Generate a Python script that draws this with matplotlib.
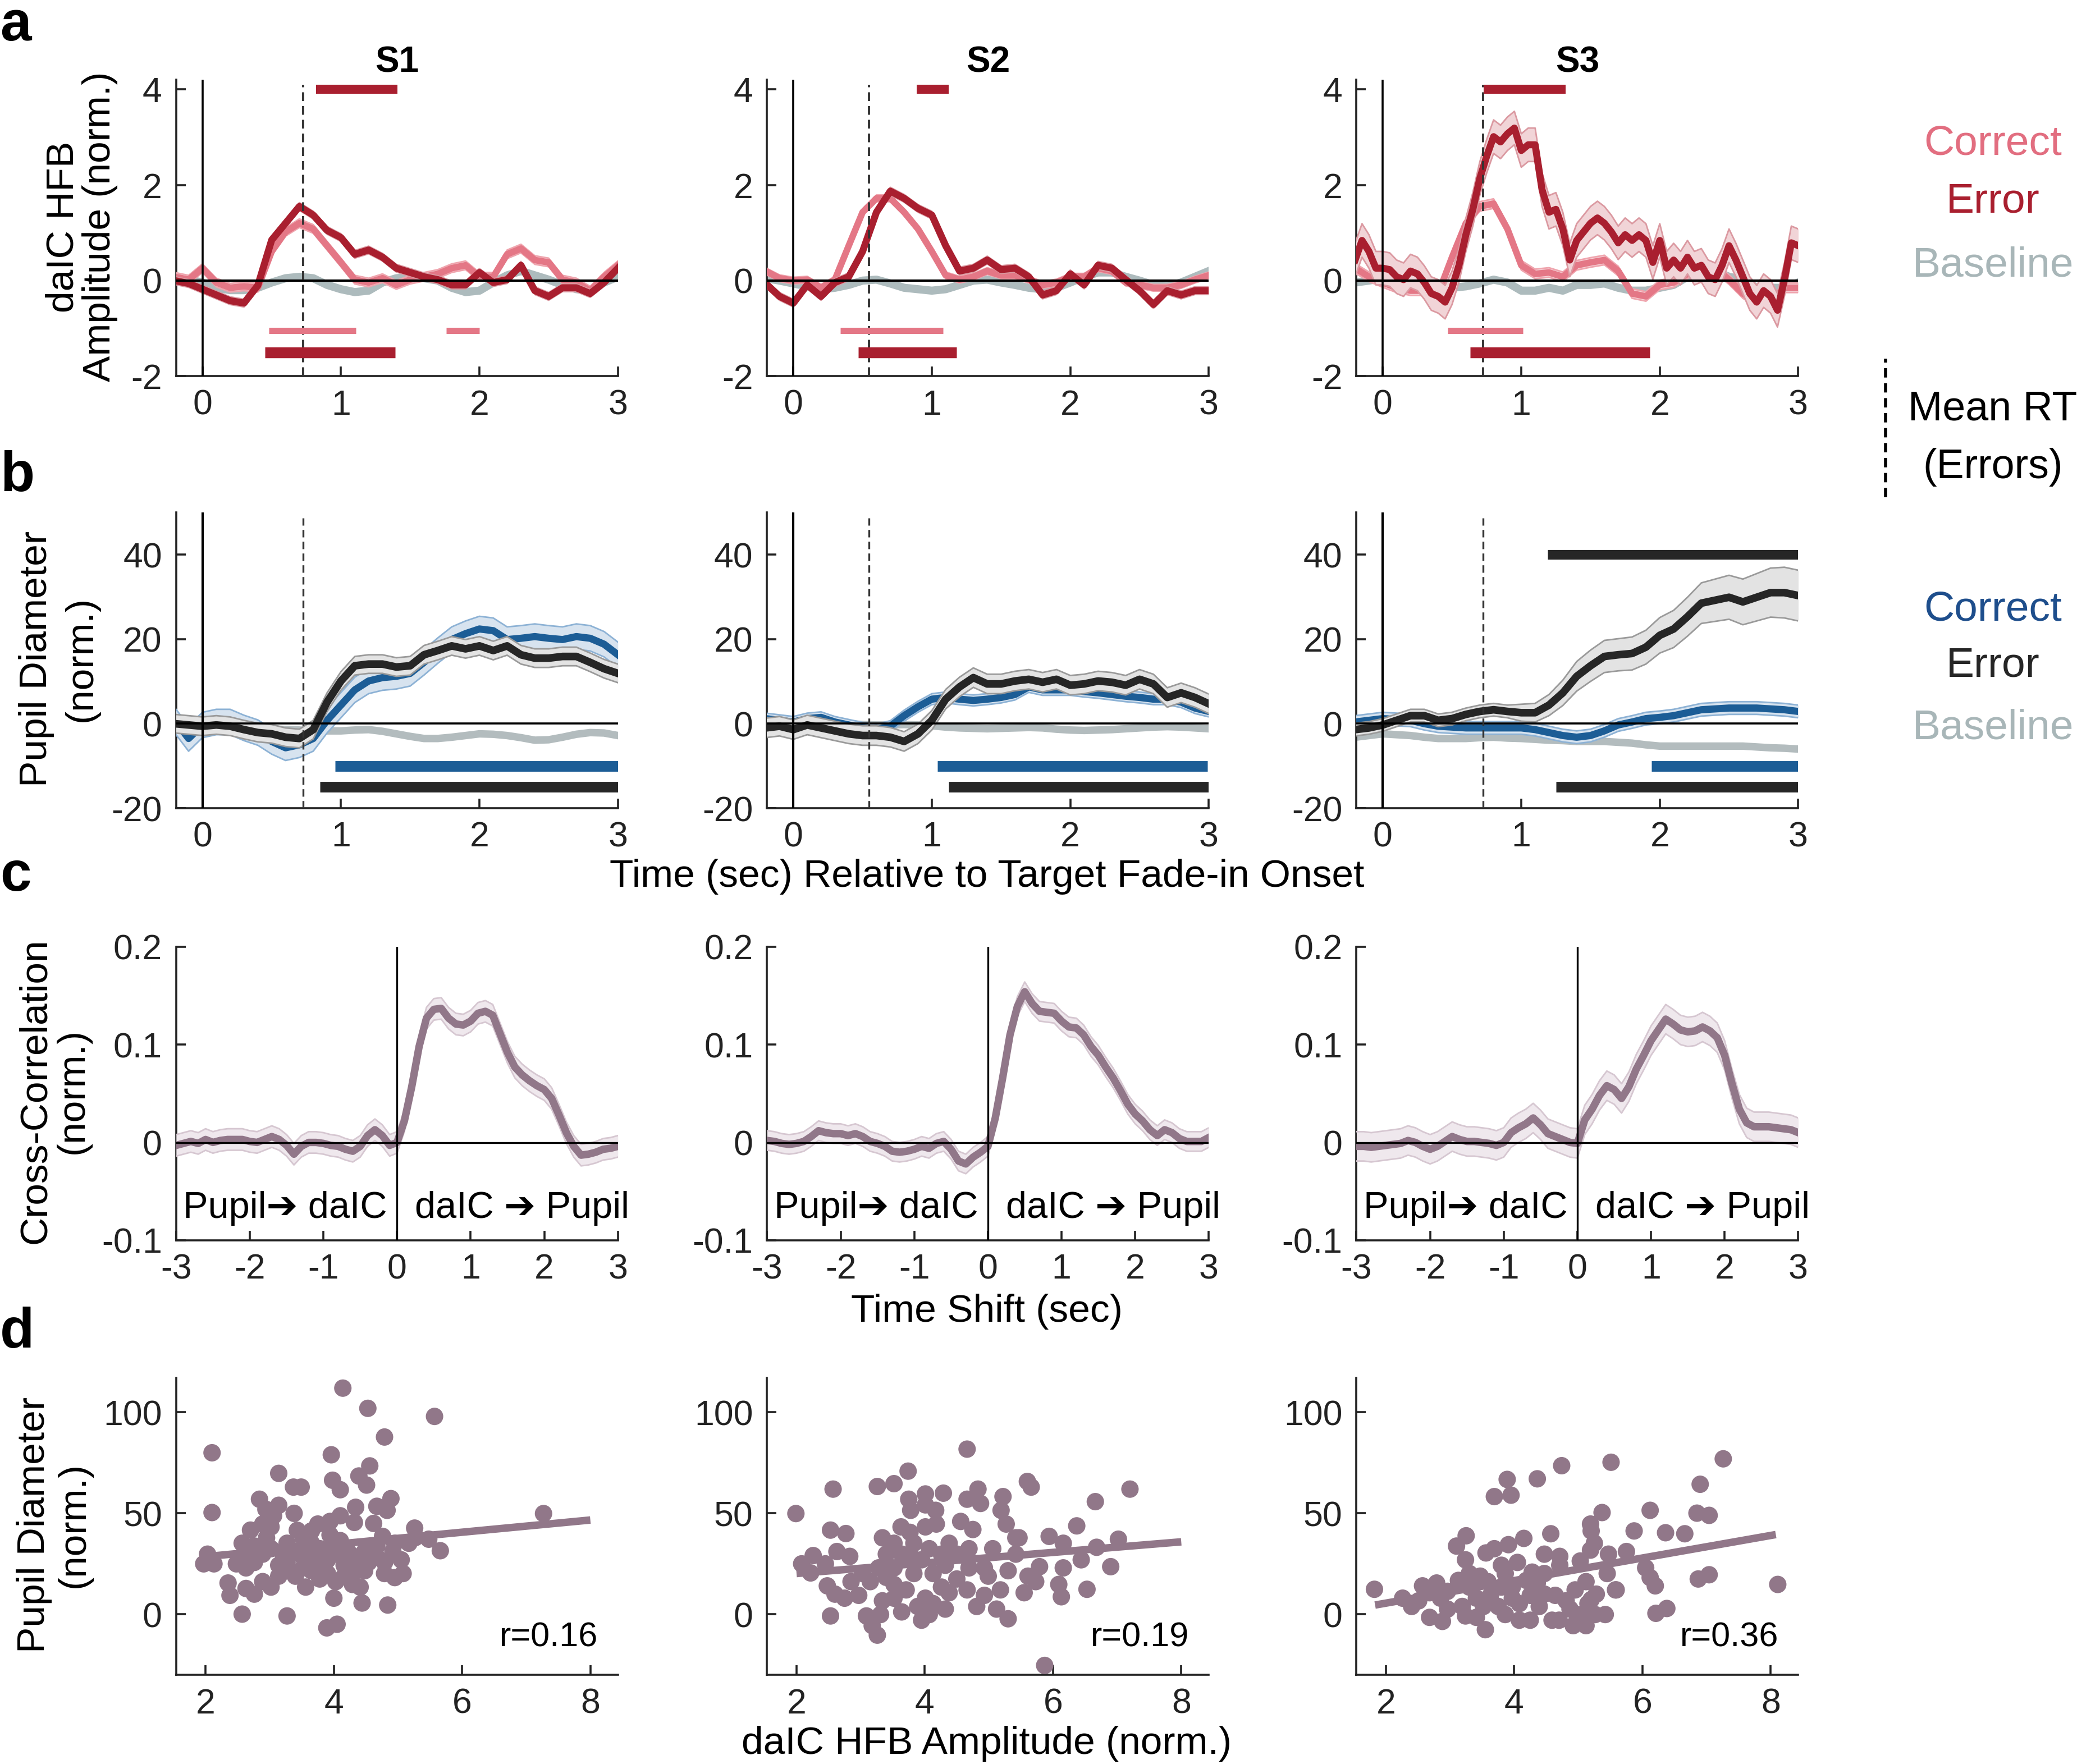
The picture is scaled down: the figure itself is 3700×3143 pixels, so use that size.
import numpy as np
import matplotlib
matplotlib.use("Agg")
import matplotlib.pyplot as plt
from matplotlib.lines import Line2D

plt.rcParams['font.family'] = ['Liberation Sans', 'DejaVu Sans']
plt.rcParams['axes.unicode_minus'] = False

# ------------------------------------------------------------------ data
subjects = ['S1', 'S2', 'S3']
t_a = np.round(np.arange(-0.2, 3.0001, 0.1), 2)          # time grid (s)
t_a_fine = np.round(np.arange(-0.2, 3.0001, 0.05), 2)
lag_c = np.round(np.arange(-3.0, 3.0001, 0.1), 2)         # time shift (s)
mean_rt = [0.726, 0.547, 0.726]

# panel a : daIC HFB amplitude
a_S1_err = [0.0, -0.06, -0.18, -0.3, -0.42, -0.47, -0.1, 0.85, 1.2, 1.55, 1.37, 1.05, 0.9, 0.55, 0.64, 0.49, 0.26,
            0.17, 0.08, 0.02, -0.09, -0.09, 0.17, -0.04, 0.02, 0.32, -0.21, -0.33, -0.15, -0.15, -0.27, -0.04, 0.26]
a_S1_cor = [0.08, 0.02, 0.26, -0.04, -0.15, -0.12, -0.15, 0.61, 1.02, 1.2, 1.08, 0.73, 0.38, 0.02, -0.04, 0.05, -0.09,
            0.02, 0.08, 0.14, 0.26, 0.32, 0.08, 0.08, 0.55, 0.67, 0.43, 0.38, 0.02, -0.04, -0.21, 0.08, 0.32]
a_S1_base = [0.08, 0.02, -0.04, -0.15, -0.2, -0.2, -0.15, -0.04, 0.05, 0.08, 0.05, -0.09, -0.18, -0.24, -0.21, -0.04,
             0.05, 0.08, 0.05, 0.0, -0.15, -0.24, -0.21, -0.04, 0.11, 0.2, 0.11, 0.02, -0.09, -0.18, -0.21, -0.04, 0.08]
a_S2_err = [-0.06, -0.33, -0.47, -0.09, -0.33, -0.04, 0.08, 0.61, 1.43, 1.87, 1.72, 1.51, 1.37, 0.73, 0.2, 0.26, 0.43,
            0.23, 0.26, 0.08, -0.3, -0.21, 0.14, -0.09, 0.32, 0.26, 0.02, -0.21, -0.5, -0.21, -0.3, -0.21, -0.21]
a_S2_cor = [0.2, 0.05, 0.0, 0.02, -0.15, 0.02, 0.73, 1.43, 1.72, 1.72, 1.43, 1.08, 0.61, 0.11, 0.02, 0.08, 0.2,
            0.11, 0.11, 0.02, -0.09, -0.04, 0.08, 0.08, 0.26, 0.2, -0.04, -0.09, -0.15, -0.15, -0.09, 0.02, 0.11]
a_S2_base = [0.05, 0.0, -0.06, -0.12, -0.18, -0.15, -0.09, 0.0, 0.02, -0.06, -0.15, -0.18, -0.21, -0.18, -0.09, 0.0,
             0.02, -0.04, -0.09, -0.15, -0.18, -0.15, -0.04, 0.08, 0.17, 0.17, 0.08, 0.0, -0.09, -0.12, -0.04, 0.08, 0.2]
a_S3_err = [0.43, 0.84, 0.61, 0.26, 0.26,
            0.23, 0.08, 0.02, 0.2, 0.14, -0.04, -0.27, -0.33, -0.45, -0.15, 0.32, 0.96, 1.49, 2.13, 2.6, 3.01, 2.9, 3.07, 3.19, 2.72,
            2.84, 2.84, 1.9, 1.43, 1.49, 1.08, 0.43, 0.84, 1.02, 1.2, 1.31, 1.2, 1.02, 0.79, 0.96, 0.84, 0.96, 0.84, 0.38, 0.84,
            0.26, 0.43, 0.26, 0.49, 0.26, 0.32, 0.08, 0.02, 0.32, 0.73, 0.43, 0.08, -0.27, -0.45, -0.21, -0.33, -0.62, 0.02, 0.79, 0.73]
a_S3_cor = [0.26, 0.08, -0.04, -0.15, -0.21, -0.21, -0.27, 0.49, 1.2, 1.55, 1.61, 1.08, 0.32, 0.14, 0.17, 0.08, 0.32,
            0.38, 0.43, 0.2, -0.27, -0.33, -0.09, -0.04, 0.14, 0.38, 0.26, 0.02, -0.27, -0.45, -0.45, -0.15, -0.15]
a_S3_base = [-0.04, 0.0, 0.05, -0.04, -0.09, -0.21, -0.21, -0.15, -0.12, -0.06, 0.02, -0.04, -0.21, -0.21, -0.15, -0.21,
             -0.09, -0.09, -0.06, -0.15, -0.21, -0.21, -0.15, -0.09, 0.08, 0.11, 0.2, 0.08, 0.02, -0.15, -0.15, -0.15, -0.04]
a_sem_err = [0.08, 0.08, 0.35]
a_sem_cor = [0.09, 0.07, 0.1]
a_sig_err_vs_cor = [[(0.82, 1.41)], [(0.89, 1.12)], [(0.73, 1.32)]]
a_sig_cor = [[(0.48, 1.11), (1.76, 2.00)], [(0.34, 1.08)], [(0.47, 1.01)]]
a_sig_err = [[(0.45, 1.39)], [(0.47, 1.18)], [(0.63, 1.93)]]

# panel b : pupil diameter
b_S1_err = [0.0, -0.3, -0.6, -0.3, -0.6, -1.4, -2.1, -2.4, -3.2, -3.5, -1.4, 5.1, 10.1, 13.7, 14.1, 14.1, 13.4, 13.7,
            16.3, 17.3, 18.4, 17.7, 18.4, 17.3, 18.4, 16.3, 15.5, 15.5, 15.9, 15.9, 14.5, 13.0, 11.9]
b_S1_cor = [0.8, -3.5, -0.3, 0.4, 0.4, -1.0, -2.1, -4.2, -5.7, -5.0, -3.5, 0.8, 4.4, 8.0, 10.1, 10.9, 11.2, 11.9,
            14.5, 17.3, 19.9, 21.3, 22.4, 22.0, 19.9, 20.2, 20.6, 20.2, 19.9, 20.6, 20.2, 18.8, 16.3]
b_S1_base = [-1.0, -1.2, -1.4, -1.2, -1.0, -1.0, -1.0, -1.2, -1.4, -1.5, -1.7, -1.7, -1.7, -1.5, -1.4, -1.8, -2.4,
             -3.0, -3.5, -3.5, -3.2, -2.8, -2.4, -2.5, -2.8, -3.3, -3.9, -3.8, -3.2, -2.5, -2.1, -2.2, -2.8]
b_S2_err = [-1.0, -0.6, -1.4, -0.3, -1.0, -1.7, -2.4, -2.8, -2.8, -3.2, -4.2, -2.4, 0.8, 5.8, 8.7, 10.9, 9.4, 9.4,
            10.1, 10.5, 9.8, 10.5, 9.1, 9.4, 10.1, 9.8, 9.1, 10.5, 9.4, 6.2, 7.3, 6.2, 4.7]
b_S2_cor = [1.2, 0.8, 0.4, 1.2, 1.5, 0.4, -0.3, -1.0, -1.4, -0.6, 1.9, 4.0, 5.8, 6.2, 5.8, 5.5, 5.8, 6.2,
            6.9, 8.7, 8.0, 8.0, 8.0, 7.6, 7.3, 6.9, 6.5, 6.2, 5.8, 5.8, 5.1, 3.7, 2.9]
b_S2_base = [0.0, -0.2, -0.3, 0.2, 0.5, 0.3, 0.0, -0.2, -0.3, -0.3, -0.2, -0.3, -0.5, -0.8, -1.0, -1.1, -1.2, -1.1,
             -1.0, -0.9, -1.0, -1.3, -1.5, -1.6, -1.5, -1.4, -1.2, -1.0, -0.8, -0.7, -0.8, -1.0, -1.2]
b_S3_err = [-1.4, -1.0, -0.3, 0.8, 1.9, 1.9, 0.8, 1.2, 2.2, 2.9, 3.3, 2.9, 2.6, 2.6, 4.4, 7.3, 11.2, 13.7,
            15.9, 16.3, 16.6, 18.1, 20.9, 22.4, 25.3, 28.5, 29.2, 29.9, 28.8, 29.9, 31.0, 31.0, 30.3]
b_S3_err_sem = [1.5, 1.5, 1.5, 1.5, 1.5, 1.5, 1.5, 1.5, 1.5, 1.5, 1.5, 1.5, 2.0, 2.2, 2.5, 3.0, 3.5, 3.7,
                3.8, 3.8, 3.9, 4.0, 4.2, 4.4, 4.6, 4.8, 5.0, 5.2, 5.4, 5.6, 5.8, 6.0, 6.0]
b_S3_cor = [0.4, 0.8, 1.2, 1.0, 0.8, 0.0, -0.6, -0.8, -1.0, -1.0, -1.0, -1.0, -1.0, -1.4, -2.1, -2.8, -3.2, -2.8,
            -1.7, -0.3, 0.4, 1.2, 1.5, 1.9, 2.6, 3.3, 3.5, 3.7, 3.7, 3.7, 3.5, 3.3, 2.9]
b_S3_base = [-3.2, -2.8, -2.4, -2.6, -2.8, -3.2, -3.5, -3.5, -3.5, -3.3, -3.2, -3.4, -3.5, -3.7, -3.9, -4.0, -4.2,
             -4.2, -4.2, -4.4, -4.6, -5.0, -5.3, -5.3, -5.3, -5.3, -5.3, -5.3, -5.3, -5.5, -5.7, -5.8, -6.0]
b_sem_err = [2.2, 2.3, None]
b_sem_cor = [3.0, 1.3, 1.5]
b_sig_err_vs_cor = [[], [], [(1.19, 3.0)]]
b_sig_cor = [[(0.96, 3.0)], [(1.04, 2.99)], [(1.94, 3.0)]]
b_sig_err = [[(0.85, 3.0)], [(1.12, 3.0)], [(1.25, 3.0)]]

# panel c : cross-correlation
c_S1 = [-0.003, -0.001, 0.001, -0.001, 0.003, 0.0, 0.002, 0.003, 0.003, 0.003, 0.001, 0.0, 0.003, 0.006, 0.003,
        -0.003, -0.012, -0.004, 0.0, 0.0, -0.001, -0.003, -0.004, -0.007, -0.009, -0.004, 0.007, 0.013, 0.007, -0.003,
        0.0, 0.022, 0.057, 0.098, 0.127, 0.136, 0.137, 0.127, 0.121, 0.12, 0.124, 0.132, 0.134, 0.13, 0.111, 0.092,
        0.077, 0.069, 0.063, 0.058, 0.054, 0.045, 0.028, 0.01, -0.004, -0.013, -0.012, -0.01, -0.007, -0.006, -0.004]
c_S2 = [0.002, 0.001, -0.001, -0.002, -0.001, 0.001, 0.006, 0.012, 0.01, 0.009, 0.009, 0.007, 0.009, 0.006, 0.001,
        -0.001, -0.004, -0.009, -0.01, -0.009, -0.007, -0.004, -0.006, -0.001, 0.001, -0.007, -0.019, -0.022, -0.015, -0.01,
        -0.004, 0.025, 0.066, 0.11, 0.139, 0.154, 0.142, 0.134, 0.133, 0.132, 0.124, 0.118, 0.117, 0.11, 0.098, 0.089,
        0.077, 0.066, 0.053, 0.039, 0.029, 0.022, 0.013, 0.007, 0.013, 0.01, 0.004, 0.001, 0.001, 0.001, 0.005]
c_S3 = [-0.004, -0.004, -0.005, -0.004, -0.003, -0.002, -0.001, 0.002, 0.0, -0.004, -0.007, -0.004, 0.001, 0.006, 0.003,
        0.001, 0.001, 0.0, -0.001, -0.003, 0.0, 0.01, 0.015, 0.019, 0.025, 0.018, 0.009, 0.006, 0.003, 0.0,
        -0.001, 0.023, 0.034, 0.048, 0.058, 0.054, 0.045, 0.057, 0.075, 0.089, 0.104, 0.115, 0.126, 0.121, 0.115, 0.113,
        0.114, 0.118, 0.114, 0.107, 0.089, 0.06, 0.034, 0.02, 0.016, 0.016, 0.016, 0.015, 0.014, 0.013, 0.01]
c_sem = [0.011, 0.01, 0.015]
c_text_left = 'Pupil\u2794 daIC'
c_text_right = 'daIC \u2794 Pupil'

# panel d : trial-wise scatter
d_S1_x = [2.10, 2.10, 4.14, 4.53, 5.57, 4.79, 3.96, 4.56, 3.14, 4.39, 4.51, 3.98, 4.10, 3.37, 3.49, 2.84, 2.94, 3.14,
          3.06, 3.38, 4.34, 4.67, 4.89, 4.83, 4.10, 3.94, 4.32, 4.62, 5.26, 7.27, 5.66, 5.48, 5.27, 2.70, 2.89, 3.02,
          3.43, 3.75, 3.65, 3.52, 3.94, 4.10, 4.76, 4.95, 2.03, 1.97, 2.13, 2.48, 2.57, 2.63, 2.76, 2.89, 3.02, 3.21,
          3.27, 3.40, 3.52, 3.65, 3.78, 3.90, 3.97, 4.10, 4.22, 4.35, 4.48, 4.54, 4.67, 4.79, 4.92, 5.05, 2.35, 2.38,
          2.63, 2.76, 2.57, 3.27, 2.89, 3.02, 3.14, 3.27, 3.40, 3.56, 3.65, 3.78, 3.90, 4.03, 4.16, 4.29, 4.41, 4.35,
          4.48, 4.00, 4.44, 4.84, 3.89, 4.05, 4.79, 4.95, 5.08, 5.17, 2.63, 2.76, 3.14, 3.52, 3.78, 4.16, 4.54, 4.67,
          3.65, 3.27, 2.95]
d_S1_y = [80.0, 50.4, 112, 102, 98, 87.8, 79, 73.5, 69.8, 68.5, 64, 66.4, 61.7, 63, 63, 57, 52, 54, 48.8, 50,
          53, 53.5, 57.3, 51.5, 48.8, 46, 45.5, 45, 42.7, 49.9, 31.5, 37.2, 38, 41.7, 44.7, 43.3, 41.6, 44.7, 41.3, 37.9,
          39.3, 36.5, 38.6, 35.2, 29.8, 25, 25, 25, 35.2, 31.1, 33.8, 29.8, 32.5, 29.8, 25.7, 31.1, 28.4, 29.8, 32.5, 27,
          32.5, 29.8, 31.1, 28.4, 31.1, 25.7, 28.4, 25.7, 31.1, 27, 15.5, 9.4, 12.8, 10, 0.1, -0.8, 16.2, 13.5, 18.9, 21.6,
          18.9, 13.5, 21.6, 17.5, 20.2, 16.2, 18.9, 14.8, 13.5, 21.6, 21.6, 8, 5.6, 4.6, -6.7, -4.9, 20.2, 18.2, 20.2, 35.2,
          23, 25.7, 24.3, 23, 24.3, 24.3, 29.8, 33.8, 35.2, 35.2, 37.9]
d_S2_x = [1.99, 2.57, 3.26, 3.52, 3.74, 4.66, 4.83, 5.60, 5.66, 7.20, 6.66, 3.75, 4.01, 4.29, 3.78, 4.01, 4.17, 4.66,
          4.87, 5.22, 5.19, 5.27, 4.56, 4.01, 4.18, 3.63, 3.77, 3.34, 2.53, 2.77, 6.37, 5.94, 5.47, 7.02, 6.68, 6.16,
          6.90, 6.44, 6.16, 2.26, 2.08, 2.22, 2.45, 2.63, 2.83, 2.48, 2.60, 2.75, 2.53, 2.85, 2.97, 3.09, 3.18, 3.26,
          3.31, 3.34, 3.15, 3.28, 3.40, 3.52, 3.64, 3.64, 3.52, 3.71, 3.83, 3.95, 3.95, 4.07, 4.01, 4.13, 4.26, 4.32,
          4.13, 4.32, 4.07, 4.38, 4.50, 4.50, 4.66, 4.69, 4.81, 4.93, 4.99, 5.06, 5.12, 5.30, 5.18, 5.30, 5.42, 5.55,
          5.61, 5.73, 5.79, 5.42, 5.87, 6.13, 6.09, 6.53, 4.69, 3.77, 3.52, 3.03, 3.40, 3.83, 4.26, 4.75, 4.93, 4.38,
          3.89, 3.52]
d_S2_y = [49.9, 62, 63.3, 64.7, 70.9, 81.8, 62, 65.8, 63, 62, 55.8, 57, 59.6, 60, 51.5, 54.2, 51.5, 57, 54.9, 58.3,
          51.5, 44.7, 46, 43.3, 44.7, 43.3, 40.6, 37.9, 41.7, 40, 43.8, 38.6, 37.9, 37.2, 33.2, 35.2, 23.6, 27, 23, 29.1,
          25, 20.5, 25, 31.1, 28.7, 14.1, 10, 8, -0.8, 16.2, 9.4, -0.8, -5.6, -10.3, -0.1, 6.7, 16.2, 23, 29.8, 23,
          29.8, 1.2, 8, 12.1, 20.2, 27, -2.9, -0.1, 8, 5.3, 13.5, 2.6, 20.2, 24.3, 32.5, 35.2, 29.8, 17.5, 12.1, 23,
          3.9, 9.4, 18.9, 32.5, 2.6, -2.2, 12.1, 21.6, 29.8, 10.7, 18.9, 16.2, 23.6, 37.9, -25.3, 8.7, 14.8, 12.4, 32.5, 29.8,
          35.2, 20.2, 18.3, 35.2, 29.8, 42, 23, 10.7, 3.9, 14.8]
d_S3_x = [1.82, 5.51, 7.26, 4.74, 4.36, 3.89, 3.95, 3.69, 6.90, 6.85, 7.04, 6.12, 5.37, 5.19, 5.20, 5.87, 6.36, 6.66,
          4.57, 4.15, 3.25, 3.10, 3.91, 3.69, 3.56, 5.25, 5.19, 5.75, 5.47, 4.47, 4.71, 3.24, 4.05, 5.03, 3.80, 6.05,
          4.71, 4.28, 4.47, 5.45, 6.12, 6.20, 6.87, 7.04, 8.11, 5.59, 4.19, 4.36, 2.57, 2.79, 3.13, 3.44, 3.59, 3.30,
          2.96, 2.68, 2.26, 2.40, 2.51, 2.85, 2.96, 2.68, 2.88, 3.19, 3.24, 3.41, 3.52, 3.41, 3.55, 3.63, 3.75, 3.86,
          3.97, 4.08, 4.08, 4.25, 4.25, 4.39, 4.47, 4.59, 4.64, 4.70, 4.81, 4.87, 4.92, 4.95, 4.98, 5.09, 5.12, 5.15,
          5.12, 5.28, 5.20, 5.26, 5.42, 5.58, 6.21, 6.38, 3.30, 3.47, 3.80, 3.97, 3.86]
d_S3_y = [12.4, 75.3, 77, 73.6, 67.1, 66.8, 59, 58.3, 64.4, 50.1, 49, 51.5, 50.4, 44.7, 41.3, 41.3, 40.4, 39.9,
          39.9, 37.6, 38.9, 33.8, 34.5, 32.5, 30.4, 35.2, 31.8, 31.1, 29.8, 29.8, 28.7, 27, 25.7, 26.4, 24.3, 23,
          24.3, 20.9, 20.2, 20.2, 18.2, 14.1, 17.5, 19.6, 14.8, 12.1, 16.8, 15.5, 14.1, 15.5, 16.8, 16.2, 16.2, 13.5,
          11.4, 10.7, 8, 3.9, 6.7, 8, 2.6, -1.5, -3.5, 3.9, -0.8, 8, 3.9, -1.5, -7.6, 9.4, 3.9, -0.1,
          8, 5.3, -2.9, -2.9, 9.4, 3.9, 10, -2.9, 9.4, -2.9, 6.7, 2.6, -5.6, 12.1, -0.1, -2.9, -5.6, 5.3,
          16.2, 10, 7.3, -0.1, -0.1, 12.1, 0.5, 2.9, 20.2, 18.9, 13.5, 13.5, 20.2]
d_fit_x = [[1.94, 8.0], [2.0, 8.0], [1.83, 8.08]]
d_fit_y = [[28.4, 46.7], [20.2, 35.9], [4.6, 39.5]]
d_r_text = ['r=0.16', 'r=0.19', 'r=0.36']

# ------------------------------------------------------------------ styles
C_COR = '#E47786'; C_COR_FILL = '#F7D3D8'; C_COR_EDGE = '#EFA5AE'
C_ERR = '#A91F2F'; C_ERR_FILL = '#F1D4D7'; C_ERR_EDGE = '#DB99A1'
C_BASE = '#ADBBBD'
C_BLUE = '#1C5D96'; C_BLUE_FILL = '#D7E3EF'; C_BLUE_EDGE = '#8DB2D5'
C_BLK = '#262626'; C_BLK_FILL = '#E3E3E3'; C_BLK_EDGE = '#9A9A9A'
C_BASE_B = '#B3BCBE'
C_PUR = '#917789'; C_PUR_FILL = '#EFE8ED'; C_PUR_EDGE = '#D6C7D1'
AX_C = '#222222'

TICK_FS = 22.5
LABEL_FS = 25
LEG_FS = 27

fig = plt.figure(figsize=(18.5, 15.715), dpi=200)

col_left = [0.0848, 0.3693, 0.6531]
W = 0.2127
row_rect = {'a': (0.7867, 0.1681), 'b': (0.5418, 0.1678), 'c': (0.2969, 0.1664), 'd': (0.0505, 0.1683)}


def make_ax(row, col):
    b, h = row_rect[row]
    ax = fig.add_axes([col_left[col], b, W, h])
    for s in ('top', 'right'):
        ax.spines[s].set_visible(False)
    for s in ('left', 'bottom'):
        ax.spines[s].set_linewidth(1.3)
        ax.spines[s].set_color(AX_C)
    ax.tick_params(axis='both', direction='in', length=6, width=1.3, labelsize=TICK_FS,
                   color=AX_C, labelcolor=AX_C)
    ax.tick_params(axis='x', pad=8)
    ax.tick_params(axis='y', pad=9)
    return ax


def trace(ax, t, y, sem, color, fill, edge, lw, z):
    t = np.asarray(t, float)
    y = np.asarray(y, float)
    if sem is not None:
        sem = np.asarray(sem, float)
        ax.fill_between(t, y - sem, y + sem, color=fill, lw=0, zorder=z)
        ax.plot(t, y - sem, color=edge, lw=1.0, zorder=z + 0.1)
        ax.plot(t, y + sem, color=edge, lw=1.0, zorder=z + 0.1)
    ax.plot(t, y, color=color, lw=lw, zorder=z + 0.2, solid_joinstyle='round')


def sig_bars(ax, spans, y, color, lw):
    for (x0, x1) in spans:
        ax.hlines(y, x0, x1, colors=color, linewidth=lw, capstyle='butt', zorder=6)


# ---------------- panel a
a_err = [a_S1_err, a_S2_err, a_S3_err]
a_cor = [a_S1_cor, a_S2_cor, a_S3_cor]
a_base = [a_S1_base, a_S2_base, a_S3_base]
a_err_t = [t_a, t_a, t_a_fine]
for i in range(3):
    ax = make_ax('a', i)
    ax.set_xlim(-0.19, 3.0)
    ax.set_ylim(-2, 4.2)
    ax.set_xticks([0, 1, 2, 3])
    ax.set_yticks([-2, 0, 2, 4])
    ax.set_yticklabels(['-2', '0', '2', '4'])
    trace(ax, t_a, a_base[i], None, C_BASE, None, None, 5.2, 2)
    trace(ax, t_a, a_cor[i], a_sem_cor[i], C_COR, C_COR_FILL, C_COR_EDGE, 4.2, 3)
    trace(ax, a_err_t[i], a_err[i], a_sem_err[i], C_ERR, C_ERR_FILL, C_ERR_EDGE, 4.5, 4)
    ax.axhline(0, color='black', lw=1.5, zorder=5)
    ax.axvline(0, color='black', lw=1.3, zorder=5)
    ax.vlines(mean_rt[i], -2, 4.1, colors='#333333', lw=1.4, linestyles=(0, (4, 2.3)), zorder=5)
    sig_bars(ax, a_sig_err_vs_cor[i], 4.0, C_ERR, 5.8)
    sig_bars(ax, a_sig_cor[i], -1.04, C_COR, 4.0)
    sig_bars(ax, a_sig_err[i], -1.5, C_ERR, 7.0)
    ax.set_title(subjects[i], fontsize=23, fontweight='bold', pad=5)

# ---------------- panel b
b_err = [b_S1_err, b_S2_err, b_S3_err]
b_cor = [b_S1_cor, b_S2_cor, b_S3_cor]
b_base = [b_S1_base, b_S2_base, b_S3_base]
b_err_sem = [b_sem_err[0], b_sem_err[1], b_S3_err_sem]
for i in range(3):
    ax = make_ax('b', i)
    ax.set_xlim(-0.19, 3.0)
    ax.set_ylim(-20, 50)
    ax.set_xticks([0, 1, 2, 3])
    ax.set_yticks([-20, 0, 20, 40])
    ax.set_yticklabels(['-20', '0', '20', '40'])
    trace(ax, t_a, b_base[i], None, C_BASE_B, None, None, 4.8, 2)
    trace(ax, t_a, b_cor[i], b_sem_cor[i], C_BLUE, C_BLUE_FILL, C_BLUE_EDGE, 4.6, 3)
    trace(ax, t_a, b_err[i], b_err_sem[i], C_BLK, C_BLK_FILL, C_BLK_EDGE, 4.9, 4)
    ax.axhline(0, color='black', lw=1.3, zorder=5)
    ax.axvline(0, color='black', lw=1.5, zorder=5)
    ax.vlines(mean_rt[i], -20, 48.6, colors='#333333', lw=1.2, linestyles=(0, (4, 2.3)), zorder=5)
    sig_bars(ax, b_sig_err_vs_cor[i], 40, C_BLK, 6.2)
    sig_bars(ax, b_sig_cor[i], -10, C_BLUE, 6.8)
    sig_bars(ax, b_sig_err[i], -15, C_BLK, 6.8)

# ---------------- panel c
c_vals = [c_S1, c_S2, c_S3]
for i in range(3):
    ax = make_ax('c', i)
    ax.set_xlim(-3, 3)
    ax.set_ylim(-0.1, 0.2)
    ax.set_xticks([-3, -2, -1, 0, 1, 2, 3])
    ax.set_xticklabels(['-3', '-2', '-1', '0', '1', '2', '3'])
    ax.set_yticks([-0.1, 0, 0.1, 0.2])
    ax.set_yticklabels(['-0.1', '0', '0.1', '0.2'])
    trace(ax, lag_c, c_vals[i], c_sem[i], C_PUR, C_PUR_FILL, C_PUR_EDGE, 4.8, 3)
    ax.axhline(0, color='black', lw=1.2, zorder=5)
    ax.axvline(0, color='black', lw=1.2, zorder=5)
    ax.text(-1.52, -0.0676, c_text_left, fontsize=24, ha='center', va='center', color='black')
    ax.text(1.70, -0.0676, c_text_right, fontsize=24, ha='center', va='center', color='black', clip_on=False)

# ---------------- panel d
d_x = [d_S1_x, d_S2_x, d_S3_x]
d_y = [d_S1_y, d_S2_y, d_S3_y]
for i in range(3):
    ax = make_ax('d', i)
    ax.set_xlim(1.54, 8.43)
    ax.set_ylim(-30, 117)
    ax.set_xticks([2, 4, 6, 8])
    ax.set_yticks([0, 50, 100])
    ax.scatter(d_x[i], d_y[i], s=125, color=C_PUR, edgecolors='none', zorder=3)
    ax.plot(d_fit_x[i], d_fit_y[i], color=C_PUR, lw=4.8, solid_capstyle='butt', zorder=4)
    ax.text(0.955, 0.125, d_r_text[i], transform=ax.transAxes, fontsize=22, ha='right', va='center',
            color='black')

# ---------------- axis labels (figure level)
fig.text(0.0305, 0.8715, 'daIC HFB', rotation=90, ha='center', va='center', fontsize=LABEL_FS)
fig.text(0.0480, 0.8715, 'Amplitude (norm.)', rotation=90, ha='center', va='center', fontsize=LABEL_FS)
fig.text(0.0175, 0.6265, 'Pupil Diameter', rotation=90, ha='center', va='center', fontsize=LABEL_FS)
fig.text(0.0390, 0.6265, '(norm.)', rotation=90, ha='center', va='center', fontsize=LABEL_FS)
fig.text(0.0170, 0.3815, 'Cross-Correlation', rotation=90, ha='center', va='center', fontsize=LABEL_FS)
fig.text(0.0350, 0.3815, '(norm.)', rotation=90, ha='center', va='center', fontsize=LABEL_FS)
fig.text(0.0165, 0.1355, 'Pupil Diameter', rotation=90, ha='center', va='center', fontsize=LABEL_FS)
fig.text(0.0355, 0.1355, '(norm.)', rotation=90, ha='center', va='center', fontsize=LABEL_FS)

fig.text(0.4751, 0.5030, 'Time (sec) Relative to Target Fade-in Onset', ha='center', va='center', fontsize=LABEL_FS)
fig.text(0.4751, 0.2565, 'Time Shift (sec)', ha='center', va='center', fontsize=LABEL_FS)
fig.text(0.4751, 0.0115, 'daIC HFB Amplitude (norm.)', ha='center', va='center', fontsize=LABEL_FS)

# ---------------- panel letters
for letter, y in zip('abcd', [0.977, 0.7216, 0.495, 0.236]):
    fig.text(0.0, y, letter, ha='left', va='baseline', fontsize=36, fontweight='bold')

# ---------------- legends
LX = 0.9595
fig.text(LX, 0.9122, 'Correct', ha='center', va='baseline', fontsize=LEG_FS, color='#E26E80')
fig.text(LX, 0.8797, 'Error', ha='center', va='baseline', fontsize=LEG_FS, color=C_ERR)
fig.text(LX, 0.8432, 'Baseline', ha='center', va='baseline', fontsize=LEG_FS, color='#A8B6B8')
fig.add_artist(Line2D([0.9078, 0.9078], [0.7181, 0.7967], transform=fig.transFigure, color='black',
                      lw=2.0, linestyle=(0, (3, 1.8))))
fig.text(LX, 0.7617, 'Mean RT', ha='center', va='baseline', fontsize=LEG_FS - 0.5, color='black')
fig.text(LX, 0.7290, '(Errors)', ha='center', va='baseline', fontsize=LEG_FS - 0.5, color='black')
fig.text(LX, 0.6484, 'Correct', ha='center', va='baseline', fontsize=LEG_FS, color='#1E4E8C')
fig.text(LX, 0.6166, 'Error', ha='center', va='baseline', fontsize=LEG_FS, color=C_BLK)
fig.text(LX, 0.5810, 'Baseline', ha='center', va='baseline', fontsize=LEG_FS, color='#A8B6B8')

fig.savefig('out.png', dpi=200)
